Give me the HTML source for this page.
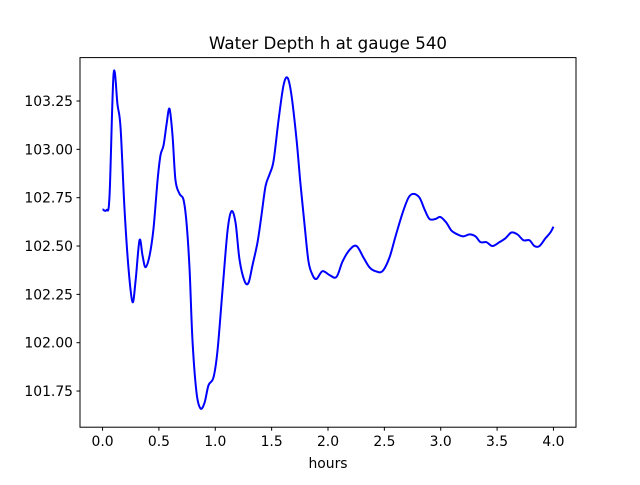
<!DOCTYPE html>
<html><head><meta charset="utf-8"><style>
html,body{margin:0;padding:0;background:#fff;}
svg text{font-family:"DejaVu Sans","Liberation Sans",sans-serif;}
</style></head><body>
<svg id="chart" width="640" height="480" xmlns="http://www.w3.org/2000/svg">
<rect width="640" height="480" fill="#fff"/>
<text x="328" y="49" font-size="16.7" text-anchor="middle">Water Depth h at gauge 540</text>
<g id="xticks"></g>
<g id="yticks"></g>
<path id="line" fill="none" stroke="#0000ff" stroke-width="2"/>
<rect x="80" y="57.6" width="496" height="369.6" fill="none" stroke="#000" stroke-width="1"/>
<text x="328" y="468" font-size="13.9" text-anchor="middle">hours</text>
</svg>
<script>
const hours=[0,0.035,0.062,0.098,0.133,0.160,0.195,0.231,0.266,0.293,0.328,0.355,0.381,0.417,0.452,0.488,0.514,0.541,0.568,0.594,0.621,0.647,0.683,0.718,0.745,0.772,0.798,0.834,0.869,0.905,0.940,0.984,1.020,1.064,1.109,1.144,1.180,1.215,1.259,1.295,1.330,1.375,1.410,1.446,1.481,1.517,1.561,1.605,1.641,1.676,1.721,1.756,1.792,1.827,1.863,1.898,1.951,2.013,2.075,2.129,2.191,2.253,2.315,2.368,2.421,2.483,2.545,2.599,2.661,2.714,2.758,2.812,2.856,2.900,2.953,2.998,3.051,3.095,3.149,3.202,3.255,3.308,3.353,3.406,3.459,3.521,3.574,3.627,3.681,3.734,3.787,3.831,3.876,3.929,3.973,4.000];
const depth=[102.69,102.686,102.76,103.39,103.23,103.11,102.69,102.38,102.21,102.32,102.53,102.45,102.39,102.45,102.59,102.84,102.97,103.02,103.13,103.21,103.07,102.84,102.77,102.74,102.62,102.38,102.01,101.74,101.66,101.69,101.78,101.82,101.96,102.27,102.58,102.68,102.62,102.43,102.32,102.31,102.40,102.52,102.66,102.81,102.87,102.94,103.15,103.33,103.37,103.28,103.05,102.82,102.61,102.42,102.35,102.33,102.37,102.35,102.34,102.42,102.48,102.50,102.44,102.39,102.37,102.37,102.44,102.55,102.67,102.75,102.77,102.75,102.69,102.64,102.64,102.65,102.62,102.58,102.56,102.55,102.56,102.55,102.52,102.52,102.50,102.52,102.54,102.57,102.56,102.53,102.53,102.50,102.50,102.54,102.57,102.60];
const xTickLabels=["0.0","0.5","1.0","1.5","2.0","2.5","3.0","3.5","4.0"];
const yTickLabels=["101.75","102.00","102.25","102.50","102.75","103.00","103.25"];
const NS="http://www.w3.org/2000/svg";
const X0=80,X1=576,Y0=57.6,Y1=427.2;
const xmin=-0.2,xmax=4.2,ymin=101.563,ymax=103.4745;
const sx=v=>X0+(v-xmin)/(xmax-xmin)*(X1-X0);
const sy=v=>Y1-(v-ymin)/(ymax-ymin)*(Y1-Y0);
const xg=document.getElementById('xticks'),yg=document.getElementById('yticks');
xTickLabels.forEach(t=>{const x=sx(parseFloat(t));
 const l=document.createElementNS(NS,'line');l.setAttribute('x1',x);l.setAttribute('x2',x);l.setAttribute('y1',Y1);l.setAttribute('y2',Y1+3.5);l.setAttribute('stroke','#000');
 
 xg.appendChild(l);
 const tx=document.createElementNS(NS,'text');tx.setAttribute('x',x);tx.setAttribute('y',Y1+19);tx.setAttribute('font-size','13.9');tx.setAttribute('text-anchor','middle');tx.textContent=t;
 
 xg.appendChild(tx);});
yTickLabels.forEach(t=>{const y=sy(parseFloat(t));
 const l=document.createElementNS(NS,'line');l.setAttribute('x1',X0-3.5);l.setAttribute('x2',X0);l.setAttribute('y1',y);l.setAttribute('y2',y);l.setAttribute('stroke','#000');
 
 yg.appendChild(l);
 const tx=document.createElementNS(NS,'text');tx.setAttribute('x',X0-7);tx.setAttribute('y',y+5);tx.setAttribute('font-size','13.9');tx.setAttribute('text-anchor','end');tx.textContent=t;
 
 yg.appendChild(tx);});
const P=hours.map((h,i)=>[sx(h),sy(depth[i])]);
let d='M'+P[0][0]+','+P[0][1];
for(let i=0;i<P.length-1;i++){const p0=P[Math.max(0,i-1)],p1=P[i],p2=P[i+1],p3=P[Math.min(P.length-1,i+2)];
 const c1=[p1[0]+(p2[0]-p0[0])/6,p1[1]+(p2[1]-p0[1])/6],c2=[p2[0]-(p3[0]-p1[0])/6,p2[1]-(p3[1]-p1[1])/6];
 d+=` C${c1[0]},${c1[1]} ${c2[0]},${c2[1]} ${p2[0]},${p2[1]}`;}
document.getElementById('line').setAttribute('d',d);
</script>
</body></html>
